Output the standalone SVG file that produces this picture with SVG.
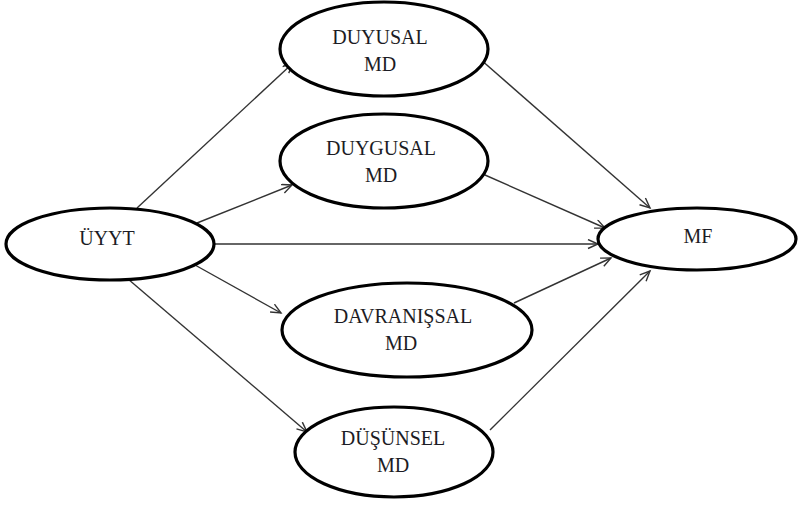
<svg xmlns="http://www.w3.org/2000/svg" width="798" height="506" viewBox="0 0 798 506">
<style>
.n{fill:#fff;stroke:#000;stroke-width:3.2}
.t{font-family:'Liberation Serif','Times New Roman','DejaVu Serif',serif;font-size:20px;fill:#1c1c24;text-anchor:middle}
.c line{stroke:#333;stroke-width:1.4;marker-end:url(#a)}
</style>
<defs>
<marker id="a" markerUnits="userSpaceOnUse" markerWidth="14" markerHeight="12" refX="11" refY="5" orient="auto">
<path d="M1,0.5 L11,5 L1,9.5" fill="none" stroke="#333" stroke-width="1.4"/>
</marker>
</defs>
<rect width="798" height="506" fill="#fff"/>
<g id="connectors" class="c">
<line x1="137" y1="208" x2="293" y2="63"/>
<line x1="197" y1="223" x2="292" y2="185"/>
<line x1="213" y1="244" x2="598" y2="244"/>
<line x1="195" y1="265" x2="281" y2="313"/>
<line x1="128" y1="279" x2="307" y2="432"/>
<line x1="480" y1="59" x2="650" y2="208"/>
<line x1="485" y1="175" x2="605" y2="228"/>
<line x1="514" y1="303" x2="611" y2="258"/>
<line x1="490" y1="430" x2="650" y2="271"/>
</g>
<g font-family="'Liberation Serif', 'DejaVu Serif', serif">
<g id="n-uyyt">
<ellipse class="n" cx="110" cy="244" rx="104" ry="36"/>
<text class="t" x="107" y="245">ÜYYT</text>
</g>
<g id="n-duyusal">
<ellipse class="n" cx="384" cy="49" rx="104" ry="47"/>
<text class="t" x="380" y="44">DUYUSAL</text>
<text class="t" x="380" y="71">MD</text>
</g>
<g id="n-duygusal">
<ellipse class="n" cx="384" cy="161" rx="104" ry="47"/>
<text class="t" x="381" y="155">DUYGUSAL</text>
<text class="t" x="381" y="182">MD</text>
</g>
<g id="n-davranissal">
<ellipse class="n" cx="407" cy="330" rx="125" ry="47"/>
<text class="t" x="403" y="323">DAVRANIŞSAL</text>
<text class="t" x="401" y="350">MD</text>
</g>
<g id="n-dusunsel">
<ellipse class="n" cx="394" cy="452" rx="99" ry="45"/>
<text class="t" x="393" y="445">DÜŞÜNSEL</text>
<text class="t" x="393" y="472">MD</text>
</g>
<g id="n-mf">
<ellipse class="n" cx="697" cy="239" rx="99" ry="31"/>
<text class="t" x="698" y="243">MF</text>
</g>
</g>
</svg>
